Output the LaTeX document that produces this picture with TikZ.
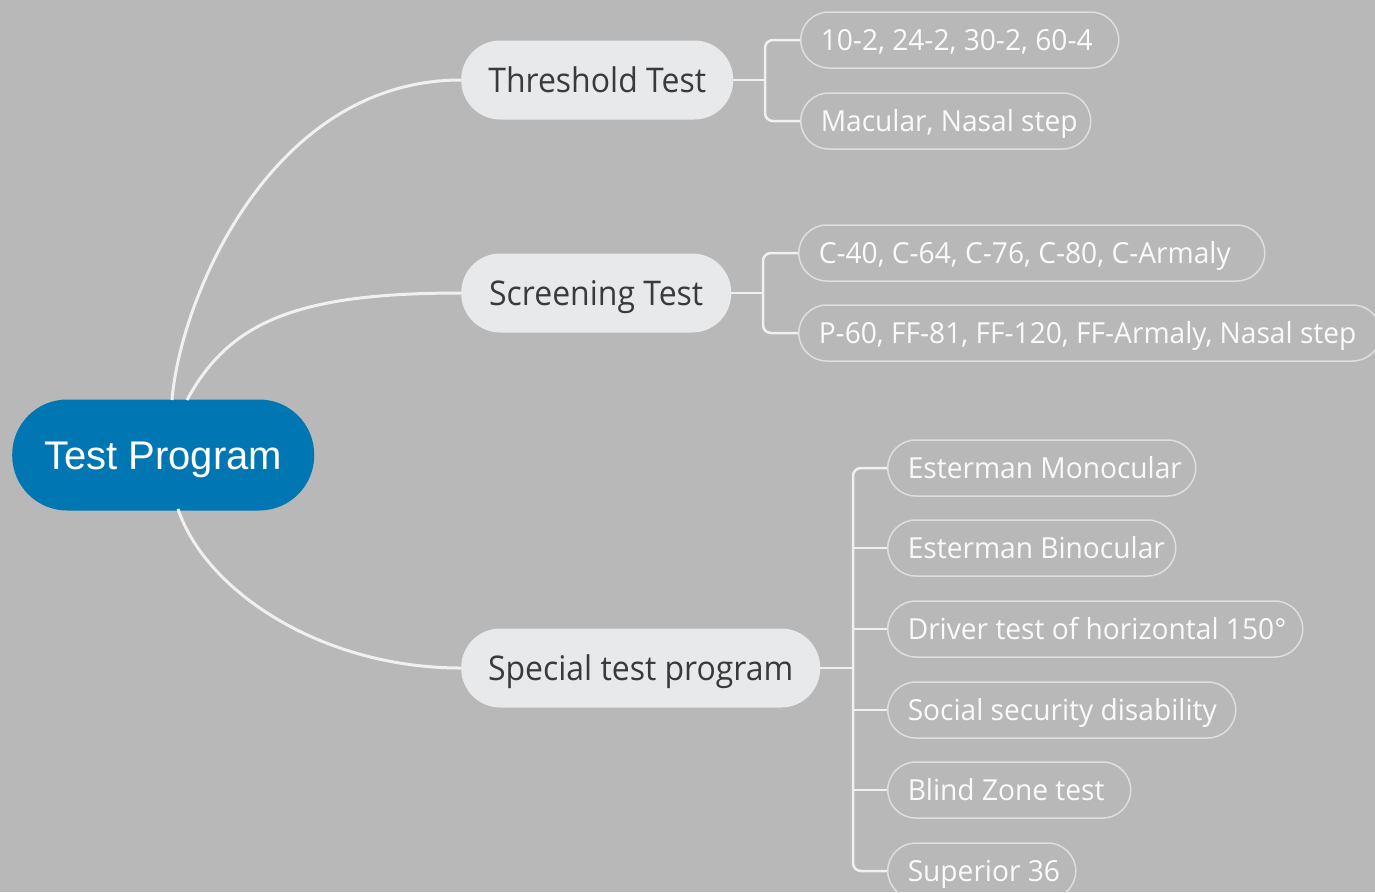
\documentclass[tikz,border=0pt]{standalone}
\usepackage{fontspec}
\setmainfont{Open Sans}
\newfontfamily\rootfont{Liberation Sans}
\newfontfamily\branchfont[FakeStretch=0.94]{Open Sans}
\newfontfamily\leaffont[FakeStretch=0.97]{Open Sans}
\definecolor{bg}{RGB}{184,184,184}
\definecolor{rootblue}{RGB}{0,119,179}
\definecolor{branchfill}{RGB}{232,233,235}
\definecolor{branchtext}{RGB}{58,58,58}
\definecolor{leafline}{RGB}{222,222,222}
\definecolor{leaftext}{RGB}{250,250,250}
\definecolor{connline}{RGB}{240,240,240}
\tikzset{
  rootnode/.style={fill=rootblue, rounded corners=55, minimum height=111, inner sep=0,
    text height=28.6pt, text depth=0pt,
    text=white, font=\rootfont\fontsize{40}{44}\selectfont, anchor=west},
  branchnode/.style={fill=branchfill, rounded corners=39, minimum height=79, inner sep=0,
    text height=24.3pt, text depth=0pt,
    text=branchtext, font=\branchfont\fontsize{34}{40}\selectfont, anchor=west},
  leafnode/.style={draw=leafline, line width=1.5, rounded corners=28, minimum height=56,
    minimum width=#1, inner ysep=0, inner xsep=0,
    execute at begin node={\hbox to \dimexpr #1pt-40pt\relax\bgroup},
    execute at end node={\hss\egroup},
    text height=20.7pt, text depth=0pt,
    text=leaftext, font=\leaffont\fontsize{29}{34}\selectfont, anchor=west},
  conn/.style={draw=connline, line width=3},
  bracket/.style={draw=connline, line width=2.5, rounded corners=8},
}
\begin{document}
\begin{tikzpicture}[x=1pt,y=-1pt]
\fill[bg] (0,0) rectangle (1375,892);
\useasboundingbox (0,0) rectangle (1375,892);

\coordinate (rt1) at (172,400);
\coordinate (rt2) at (187,400);
\coordinate (rb3) at (178,509);

\node[rootnode, minimum width=302] (root) at (12,455) {Test Program};

\node[branchnode, minimum width=272] (thr) at (461,80) {Threshold Test};
\node[branchnode, minimum width=270] (scr) at (461,293) {Screening Test};
\node[branchnode, minimum width=359] (spe) at (461,668) {Special test program};

\draw[conn] (rt1) .. controls (180,300) and (270,80) .. (thr.west);
\draw[conn] (rt2) .. controls (230,320) and (300,293) .. (scr.west);
\draw[conn] (rb3) .. controls (205,590) and (320,668) .. (spe.west);

\node[leafnode=318] (l1) at (800,40) {10-2, 24-2, 30-2, 60-4};
\node[leafnode=290] (l2) at (800,121) {Macular, Nasal step};
\node[leafnode=466] (l3) at (798,253) {C-40, C-64, C-76, C-80, C-Armaly};
\node[leafnode=582] (l4) at (798,333) {P-60, FF-81, FF-120, FF-Armaly, Nasal step};
\node[leafnode=308] (l5) at (887,468) {Esterman Monocular};
\node[leafnode=288] (l6) at (887,548) {Esterman Binocular};
\node[leafnode=415] (l7) at (887,629) {Driver test of horizontal 150°};
\node[leafnode=348] (l8) at (887,710) {Social security disability};
\node[leafnode=243] (l9) at (887,790) {Blind Zone test};
\node[leafnode=188] (l10) at (887,871) {Superior 36};

\coordinate (tb) at (765,80);
\coordinate (sb) at (763,293);
\coordinate (pb) at (853,668);

\draw[bracket] (thr.east) -- (tb);
\draw[bracket] (l1.west) -| (tb) |- (l2.west);
\draw[bracket] (scr.east) -- (sb);
\draw[bracket] (l3.west) -| (sb) |- (l4.west);
\draw[bracket] (spe.east) -- (pb);
\draw[bracket] (l5.west) -| (pb) |- (l10.west);
\draw[bracket] (pb |- l6.west) -- (l6.west);
\draw[bracket] (pb |- l7.west) -- (l7.west);
\draw[bracket] (pb |- l8.west) -- (l8.west);
\draw[bracket] (pb |- l9.west) -- (l9.west);
\end{tikzpicture}
\end{document}
